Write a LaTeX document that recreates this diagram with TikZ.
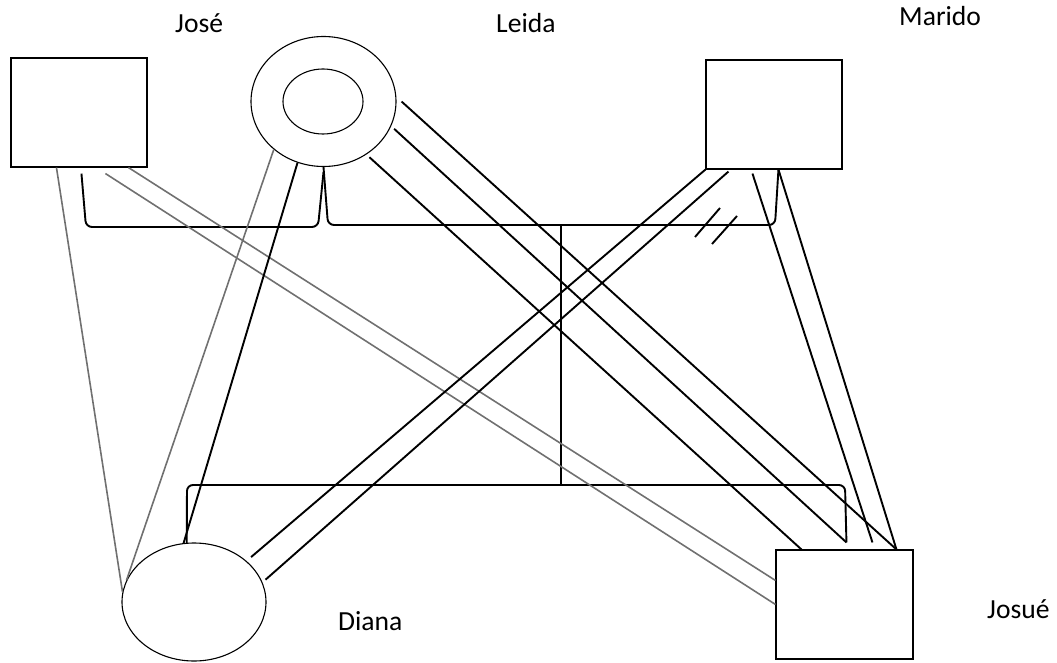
\documentclass[tikz,border=0pt]{standalone}
\usepackage{fontspec}
\setmainfont{Carlito}
\usetikzlibrary{shapes.geometric,calc}
\definecolor{lgray}{RGB}{112,112,112}
\begin{document}
\begin{tikzpicture}[x=1pt,y=-1pt,
  outl/.style={draw=black,line width=1.1pt,inner sep=0pt},
  box/.style={outl,rectangle,minimum width=136pt,minimum height=109pt},
  oval/.style={outl,ellipse},
  lbl/.style={inner sep=0pt,anchor=base west,font=\fontsize{27.6}{30}\selectfont},
  link/.style={line width=1.9pt,black},
  glink/.style={line width=1.6pt,lgray},
  bracket/.style={line width=1.9pt,black,rounded corners=6pt},
  hash/.style={line width=1.9pt,black}]
\useasboundingbox (0,0) rectangle (1057,663);

% people
\node[box] (jose) at (79,112.5) {};
\node[oval,minimum width=145pt,minimum height=130pt] (leida) at (323.5,101.5) {};
\node[oval,minimum width=80pt,minimum height=65pt] (leidain) at (323,101.5) {};
\node[box] (marido) at (774,114.5) {};
\node[oval,minimum width=144pt,minimum height=118pt] (diana) at (194,602) {};
\node[box,minimum width=137pt] (josue) at (844.5,604.5) {};

% labels
\node[lbl] (tjose) at (175,33) {José};
\node[lbl] (tleida) at (496,33) {Leida};
\node[lbl] (tmarido) at (899,26) {Marido};
\node[lbl] (tdiana) at (338,630) {Diana};
\node[lbl] (tjosue) at (987,618) {Josué};

% family structure
\coordinate (couple) at (561,225);
\coordinate (sibs) at (561,485);
\draw[bracket] ([xshift=71pt,yshift=-6pt]jose.south west) -- (86,227) -- (318,227) -- ([yshift=-5pt]leida.south);
\draw[bracket] (leida.south) -- (328,225) -- (775,225) -- ([xshift=73pt]marido.south west);
\draw[link] (couple) -- (sibs);
\draw[bracket] (diana.97) -- (187,485) -- (845,485) -- ([xshift=71pt,yshift=7pt]josue.north west);

% grey relations (José)
\draw[glink] ([xshift=46pt]jose.south west) -- (diana.172);
\draw[glink] ([xshift=118pt]jose.south west) -- ([yshift=-31pt]josue.north west);
\draw[glink] ([xshift=95pt,yshift=-6pt]jose.south west) -- ([yshift=-55pt]josue.north west);
\draw[glink] (leida.224) -- (diana.162);

% black relations
\draw[link] (leida.247) -- (diana.100);
\draw[link] ([xshift=5pt]leida.east) -- ([xshift=121pt]josue.north west);
\draw[link,shorten <=4pt] (leida.-20) -- ([xshift=71pt,yshift=7pt]josue.north west);
\draw[link,shorten <=4pt] (leida.-51) -- ([xshift=26pt]josue.north west);
\draw[link,shorten >=6pt] (marido.south west) -- (diana.38);
\draw[link,shorten >=4pt] ([xshift=23pt,yshift=-2pt]marido.south west) -- (diana.16);
\draw[link] ([xshift=47pt,yshift=-4pt]marido.south west) -- ([xshift=97pt,yshift=7pt]josue.north west);
\draw[link] ([xshift=73pt]marido.south west) -- ([xshift=121pt]josue.north west);

% separation marks
\draw[hash] (695,237) -- (720,208);
\draw[hash] (712,244) -- (737,216);
\end{tikzpicture}
\end{document}
